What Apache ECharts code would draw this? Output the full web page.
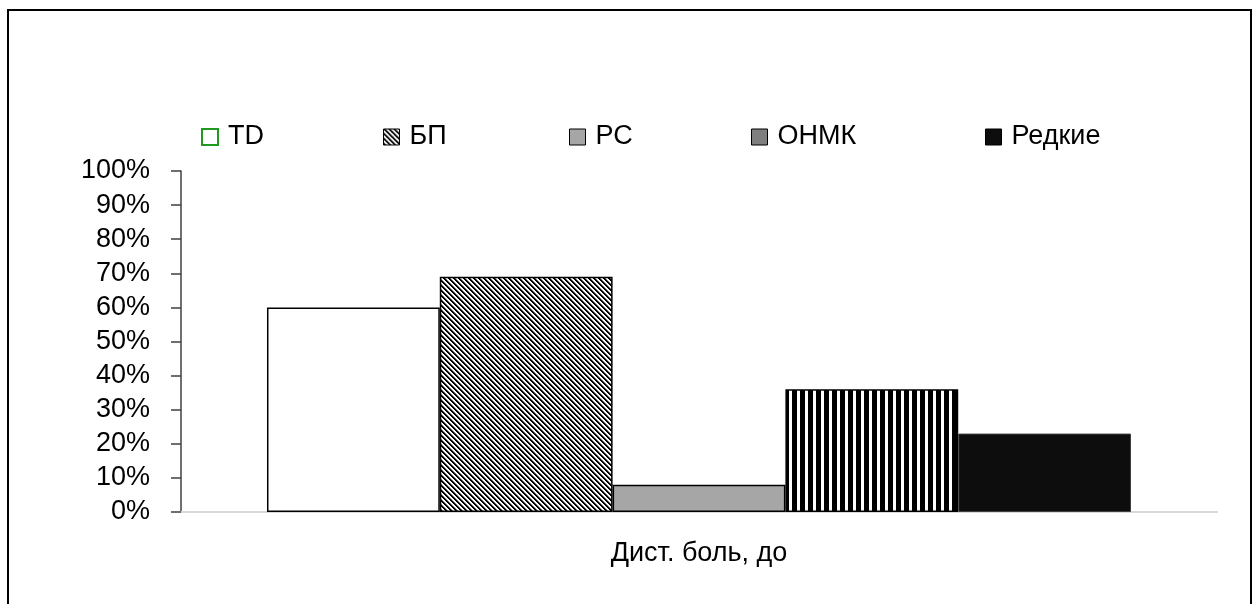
<!DOCTYPE html>
<html>
<head>
<meta charset="utf-8">
<script src="https://cdn.jsdelivr.net/npm/echarts@6/dist/echarts.min.js"></script>
<style>
html,body{margin:0;padding:0;background:#fff;}
#chart{width:1253px;height:604px;}
</style>
</head>
<body>
<div id="chart"></div>
<script>
const categories = ['Дист. боль, до'];
const seriesNames = ['TD', 'БП', 'РС', 'ОНМК', 'Редкие'];
const valuesTD = [60];
const valuesBP = [69];
const valuesRS = [8];
const valuesONMK = [36];
const valuesRare = [23];
const yTicks = [0, 10, 20, 30, 40, 50, 60, 70, 80, 90, 100];

function makeTile(w, h, fn) {
  const c = document.createElement('canvas');
  c.width = w; c.height = h;
  const ctx = c.getContext('2d');
  const img = ctx.createImageData(w, h);
  for (let y = 0; y < h; y++) {
    for (let x = 0; x < w; x++) {
      const v = fn(x, y);
      const i = (y * w + x) * 4;
      img.data[i] = v; img.data[i+1] = v; img.data[i+2] = v; img.data[i+3] = 255;
    }
  }
  ctx.putImageData(img, 0, 0);
  return c;
}
const diagTile = makeTile(5, 5, (x, y) => {
  const d = ((x - y) % 5 + 5) % 5;
  return d < 2 ? 0 : (d === 2 ? 128 : 255);
});
const vertTile = makeTile(8, 8, (x, y) => (x < 5 ? 0 : 255));
const checkTile = makeTile(2, 2, (x, y) => ((x + y) % 2 === 0 ? 0 : 255));

const diagPattern = { image: diagTile, repeat: 'repeat' };
const vertPattern = { image: vertTile, repeat: 'repeat' };
const checkPattern = { image: checkTile, repeat: 'repeat' };

const FONT = 'Liberation Sans';
const FS = 27;

const chart = echarts.init(document.getElementById('chart'), null, { renderer: 'canvas' });

const legendLefts = [201, 383, 569, 751, 985];
const legendStyles = [
  { color: '#ffffff', borderColor: '#1f9a1f', borderWidth: 2 },
  { color: diagPattern, borderColor: '#000000', borderWidth: 1 },
  { color: '#a6a6a6', borderColor: '#000000', borderWidth: 1 },
  { color: checkPattern, borderColor: '#000000', borderWidth: 1 },
  { color: '#0d0d0d', borderColor: '#000000', borderWidth: 1 }
];

const legends = seriesNames.map((n, i) => ({
  data: [{ name: n, itemStyle: legendStyles[i] }],
  left: legendLefts[i],
  top: 122,
  padding: 0,
  itemWidth: 16,
  itemHeight: 16,
  icon: 'rect',
  selectedMode: false,
  textStyle: { fontFamily: FONT, fontSize: FS, color: '#000', lineHeight: 30, padding: [0, 0, 0, 5] }
}));

const seriesData = [valuesTD, valuesBP, valuesRS, valuesONMK, valuesRare];
const seriesStyles = [
  { color: '#ffffff', borderColor: '#000000', borderWidth: 1.5 },
  { color: diagPattern, borderColor: '#000000', borderWidth: 1.5 },
  { color: '#a6a6a6', borderColor: '#000000', borderWidth: 1.5 },
  { color: vertPattern, borderColor: '#000000', borderWidth: 1.5 },
  { color: '#0d0d0d', borderColor: '#404040', borderWidth: 1 }
];

const option = {
  backgroundColor: '#ffffff',
  animation: false,
  textStyle: { fontFamily: FONT },
  legend: legends,
  grid: { left: 181, right: 36, top: 171, bottom: 92, containLabel: false },
  xAxis: {
    type: 'category',
    data: categories,
    axisLine: { show: true, lineStyle: { color: '#d9d9d9', width: 2 } },
    axisTick: { show: false },
    axisLabel: { fontFamily: FONT, fontSize: FS, color: '#000', margin: 28 },
    splitLine: { show: false }
  },
  yAxis: {
    type: 'value',
    min: yTicks[0],
    max: yTicks[yTicks.length - 1],
    interval: 10,
    axisLine: { show: true, lineStyle: { color: '#404040', width: 1.5 } },
    axisTick: { show: true, inside: false, length: 10, lineStyle: { color: '#404040', width: 1.5 } },
    axisLabel: { fontFamily: FONT, fontSize: FS, color: '#000', margin: 31, formatter: '{value}%' },
    splitLine: { show: false }
  },
  series: seriesNames.map((n, i) => ({
    name: n,
    type: 'bar',
    data: seriesData[i],
    barGap: '0%',
    barCategoryGap: '16.6%',
    itemStyle: seriesStyles[i]
  })),
  graphic: [{
    type: 'rect',
    shape: { x: 8, y: 10, width: 1243, height: 700 },
    style: { fill: 'none', stroke: '#000', lineWidth: 2 },
    silent: true,
    z: 100
  }]
};
chart.setOption(option);
</script>
</body>
</html>
